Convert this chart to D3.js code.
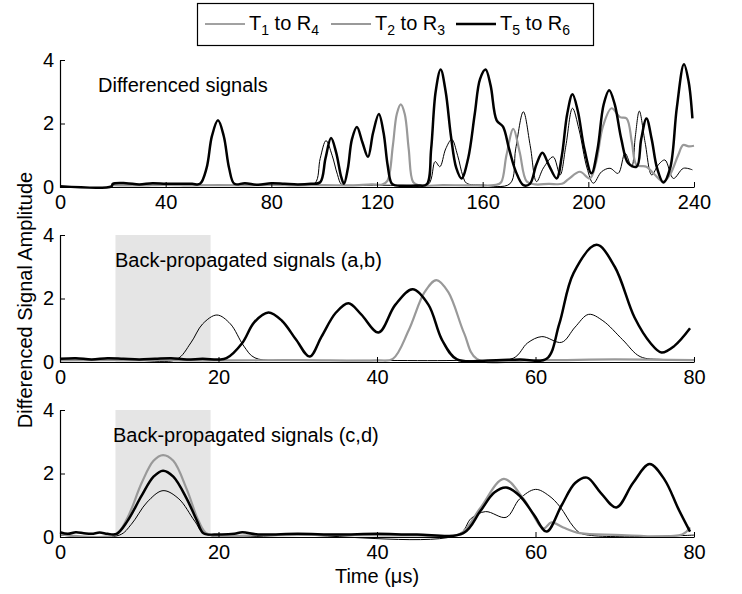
<!DOCTYPE html>
<html><head><meta charset="utf-8">
<script src="https://cdn.jsdelivr.net/npm/d3@7"></script>
<style>
html,body{margin:0;padding:0;background:#fff;}
svg{display:block;}
text{font-family:'Liberation Sans',Arial,Helvetica,sans-serif;}
</style></head>
<body><svg id="c" width="742" height="594"></svg>
<script>
// ---------- data ----------
const seriesNames = ["T1 to R4", "T2 to R3", "T5 to R6"];
const panelLabels = ["Differenced signals", "Back-propagated signals (a,b)", "Back-propagated signals (c,d)"];
const xDomains = [[0, 240], [0, 80], [0, 80]];
const xTicks = [[0, 40, 80, 120, 160, 200, 240], [0, 20, 40, 60, 80], [0, 20, 40, 60, 80]];
const yTicks = [0, 2, 4];
const shadeWindow = [7, 19]; // μs, panels 2 and 3

// Panel 1 – differenced signals
const p1_T1R4 = [[20,0.05],[30,0.06],[40,0.05],[50,0.06],[60,0.05],[70,0.06],[80,0.05],[90,0.06],[96.5,0.12],[98.5,0.9],[100.7,1.46],[103,1.0],[105,0.4],[106.6,0.08],[110,0.05],[120,0.06],[130,0.05],[139.4,0.08],[142,0.8],[143.8,0.64],[146,1.2],[148.3,1.5],[150.5,1.0],[152.5,0.35],[153.9,0.12],[160,0.06],[170.3,0.1],[172.5,1.2],[175.4,2.37],[178,1.3],[180.4,0.17],[183,0.6],[186.7,0.95],[189.3,0.38],[191.5,1.3],[194,2.48],[196.5,1.8],[199.5,0.6],[201.9,0.12],[205,0.48],[208.2,0.59],[211.3,0.43],[213.9,1.06],[216.4,0.64],[217.8,1.6],[219.3,2.39],[221.5,1.4],[224,0.38],[226.5,0.7],[229,0.85],[232.2,0.27],[236,0.59],[239.4,0.54]];
const p1_T2R3 = [[20,0.06],[30,0.05],[40,0.07],[50,0.05],[60,0.06],[70,0.05],[80,0.07],[90,0.05],[100,0.06],[110,0.05],[118,0.08],[122,0.08],[124,0.2],[126,1.3],[127.5,2.3],[129,2.6],[130.5,2.3],[132,1.2],[133.7,0.15],[136,0.05],[145,0.06],[155,0.05],[165,0.07],[167,0.15],[169,1.0],[171.6,1.83],[174,1.1],[176.7,0.17],[180,0.08],[185,0.1],[190,0.1],[192.5,0.25],[196.8,0.48],[200.6,0.27],[203,0.8],[205.5,1.9],[208.8,2.48],[212,2.2],[214.5,2.16],[216.5,1.4],[218.3,0.69],[222,0.64],[225,0.4],[228.4,0.17],[231,0.4],[234,1.0],[235.9,1.32],[238,1.28],[240,1.3]];
const p1_T5R6 = [[0,0.02],[19.5,0.02],[20,0.1],[25,0.12],[30,0.08],[35,0.12],[40,0.1],[45,0.1],[50,0.1],[53,0.1],[55.5,0.6],[57.5,1.6],[59.8,2.1],[62,1.6],[64,0.6],[66,0.1],[70,0.12],[75,0.07],[80,0.12],[85,0.1],[90,0.08],[95,0.1],[98.5,0.15],[100.5,0.9],[102.6,1.54],[104.5,1.1],[106.5,0.3],[107.5,0.1],[109,0.6],[110.5,1.5],[112.4,1.89],[114.5,1.4],[116.6,0.95],[118.5,1.7],[120.7,2.3],[122.5,1.7],[124,0.7],[125.5,0.12],[127,0.05],[130,0.04],[135,0.05],[138.8,0.08],[140.5,1.2],[142.2,3.0],[144.1,3.7],[146,3.0],[148,1.6],[150,0.6],[152,0.27],[154.5,0.9],[157,2.3],[159,3.4],[161.1,3.7],[163,3.2],[165.3,2.1],[167.7,1.9],[170,1.2],[172.5,0.5],[175.4,0.06],[177.9,0.1],[180.3,0.7],[182.6,1.08],[185,0.7],[188,0.27],[190,1.0],[192,2.3],[194,2.92],[196,2.4],[198.5,1.2],[201.2,0.43],[203.5,1.2],[205.8,2.6],[207.9,3.05],[210,2.6],[212.5,1.5],[215.1,0.75],[218.3,0.64],[220,1.5],[222,2.16],[224,1.5],[226,0.6],[228.4,0.14],[231,0.6],[233.5,2.5],[236.2,3.87],[238,3.3],[239.4,2.16]];

// Panel 2 – back-propagated (a,b)
const p2_T1R4 = [[0,0.05],[5,0.06],[10,0.05],[14.7,0.08],[16.5,0.6],[18,1.2],[19.8,1.48],[21.5,1.2],[23.2,0.5],[24.6,0.13],[30,0.06],[40,0.05],[50,0.05],[57.2,0.12],[59,0.6],[60.8,0.8],[63.3,0.62],[65,1.1],[66.7,1.5],[68.5,1.3],[71,0.7],[73.2,0.17],[76,0.08],[80,0.08]];
const p2_T2R3 = [[0,0.05],[10,0.06],[20,0.05],[30,0.06],[40,0.05],[42,0.1],[44,1.0],[46,2.2],[47.5,2.58],[49,2.2],[51,0.9],[52.6,0.1],[60,0.06],[70,0.08],[80,0.06]];
const p2_T5R6 = [[0,0.1],[2,0.12],[4,0.08],[6,0.12],[8,0.1],[10,0.08],[12,0.1],[14,0.12],[16,0.08],[18,0.1],[20,0.08],[21,0.12],[23,0.6],[24.5,1.25],[26.3,1.56],[28,1.3],[29.8,0.7],[31.5,0.17],[33,0.8],[34.8,1.55],[36.4,1.85],[38,1.5],[40.2,0.93],[42.3,1.8],[44.5,2.29],[46.5,1.8],[48.2,0.7],[50.1,0.08],[54,0.05],[58,0.08],[61.4,0.1],[63,1.2],[64.8,2.8],[67.7,3.69],[70,3.0],[72.5,1.4],[74.5,0.6],[75.9,0.3],[77.5,0.5],[79.5,1.06]];

// Panel 3 – back-propagated (c,d)
const p3_T1R4 = [[0,0.06],[7.5,0.06],[9,0.4],[11,1.1],[13,1.46],[15,1.2],[17,0.5],[18.3,0.1],[30,0.06],[50.3,0.08],[51.9,0.59],[53.7,0.8],[56.3,0.62],[58,1.2],[60,1.5],[61.7,1.3],[63.1,0.95],[64.8,0.32],[65.9,0.1],[80,0.06]];
const p3_T2R3 = [[0,0.08],[7,0.08],[8.5,0.6],[10.3,1.7],[11.8,2.4],[13,2.58],[14.3,2.4],[16,1.5],[17.5,0.5],[18.6,0.1],[25,0.06],[35,0.07],[45,0.05],[50.5,0.1],[53,0.9],[56,1.83],[58.5,1.2],[61,0.27],[62,0.46],[63.5,0.3],[65.6,0.12],[70,0.07],[78.5,0.08],[79.5,0.3]];
const p3_T5R6 = [[0,0.15],[1,0.1],[2,0.15],[3,0.12],[4,0.1],[5,0.14],[6,0.1],[7.15,0.1],[8.5,0.5],[10.3,1.3],[11.8,1.9],[13,2.09],[14.3,1.9],[16,1.2],[17.3,0.5],[18.1,0.12],[20,0.08],[22,0.1],[23,0.15],[25,0.08],[30,0.1],[35,0.08],[40,0.1],[45,0.08],[50.9,0.12],[53,0.8],[54.8,1.4],[56.3,1.56],[58,1.3],[59.8,0.7],[61.4,0.17],[63.3,1.0],[65,1.7],[66.5,1.87],[68.2,1.4],[70.2,0.93],[72.3,1.7],[74.4,2.3],[76.3,1.8],[78,0.9],[79.5,0.17]];

// ---------- layout ----------
const FONT = "'Liberation Sans', Arial, Helvetica, sans-serif";
const svg = d3.select("#c").attr("font-family", FONT);
const L = 60, R = 694;
const panelsY = [[60, 187], [235, 362], [410, 537]];
const FS = 20;
const styles = [
  {stroke: "#000", width: 1},
  {stroke: "#999", width: 2.2},
  {stroke: "#000", width: 2.5}
];
const panelData = [
  [p1_T1R4, p1_T2R3, p1_T5R6],
  [p2_T1R4, p2_T2R3, p2_T5R6],
  [p3_T1R4, p3_T2R3, p3_T5R6]
];
const labelPos = [[98, 92], [115, 267], [113, 442]];

panelsY.forEach(([top, bot], i) => {
  const x = d3.scaleLinear().domain(xDomains[i]).range([L, R]);
  const y = d3.scaleLinear().domain([0, 4]).range([bot, top]);
  const g = svg.append("g");
  if (i > 0) {
    g.append("rect").attr("x", x(shadeWindow[0])).attr("y", y(4))
      .attr("width", x(shadeWindow[1]) - x(shadeWindow[0])).attr("height", y(0) - y(4))
      .attr("fill", "#e5e5e5");
  }
  g.append("text").attr("x", labelPos[i][0]).attr("y", labelPos[i][1])
    .attr("font-size", FS).attr("font-family", FONT).attr("fill", "#000").text(panelLabels[i]);
  const line = d3.line().x(d => x(d[0])).y(d => y(d[1])).curve(d3.curveCatmullRom.alpha(0.5));
  panelData[i].forEach((s, k) => {
    g.append("path").attr("d", line(s)).attr("fill", "none")
      .attr("stroke", styles[k].stroke).attr("stroke-width", styles[k].width)
      .attr("stroke-linejoin", "round");
  });
  const xa = g.append("g").attr("transform", `translate(0,${bot})`)
    .call(d3.axisBottom(x).tickValues(xTicks[i]).tickFormat(d3.format("d"))
      .tickSizeInner(-5).tickSizeOuter(0).tickPadding(8));
  const ya = g.append("g").attr("transform", `translate(${L},0)`)
    .call(d3.axisLeft(y).tickValues(yTicks).tickFormat(d3.format("d"))
      .tickSizeInner(-5).tickSizeOuter(0).tickPadding(6));
  [xa, ya].forEach(a => {
    a.attr("font-family", FONT).attr("font-size", FS);
    a.selectAll("path.domain").attr("stroke", "#000").attr("stroke-width", 1.2);
    a.selectAll("line").attr("stroke", "#000");
    a.selectAll("text").attr("font-size", FS).attr("fill", "#000").attr("font-family", FONT);
  });
});

// axis titles
svg.append("text").attr("transform", "translate(32,300) rotate(-90)")
  .attr("text-anchor", "middle").attr("font-size", FS).attr("font-family", FONT)
  .text("Differenced Signal Amplitude");
svg.append("text").attr("x", 377).attr("y", 583).attr("text-anchor", "middle")
  .attr("font-size", FS).attr("font-family", FONT).text("Time (μs)");

// legend
const leg = svg.append("g");
leg.append("rect").attr("x", 197.5).attr("y", 3.5).attr("width", 396).attr("height", 42)
  .attr("fill", "#fff").attr("stroke", "#000").attr("stroke-width", 1.2);
const legX = [205, 331, 456];
const subs = [["1", "4"], ["2", "3"], ["5", "6"]];
legX.forEach((lx, k) => {
  leg.append("line").attr("x1", lx).attr("x2", lx + 40).attr("y1", 24).attr("y2", 24)
    .attr("stroke", k === 0 ? "#444" : styles[k].stroke).attr("stroke-width", styles[k].width);
  const t = leg.append("text").attr("x", lx + 44).attr("y", 30).attr("font-size", FS)
    .attr("font-family", FONT);
  t.append("tspan").text("T");
  t.append("tspan").attr("font-size", 14).attr("dy", 5).text(subs[k][0]);
  t.append("tspan").attr("dy", -5).text(" to R");
  t.append("tspan").attr("font-size", 14).attr("dy", 5).text(subs[k][1]);
});
</script></body></html>
